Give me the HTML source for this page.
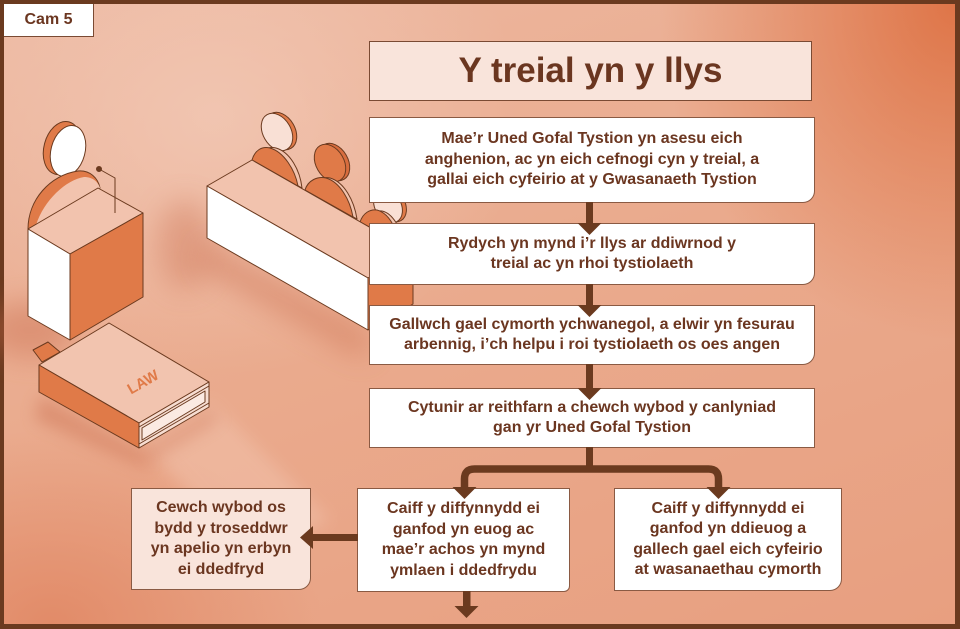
<!DOCTYPE html>
<html><head><meta charset="utf-8">
<style>
*{margin:0;padding:0;box-sizing:border-box}
html,body{width:960px;height:629px;overflow:hidden}
#wrap{position:relative;width:960px;height:629px;background:#6b3a1f}
#inner{position:absolute;left:4px;top:4px;width:951px;height:620px;overflow:hidden;
background:
 radial-gradient(ellipse 430px 360px at 22% 18%, rgba(243,204,186,0.7), rgba(243,204,186,0) 72%),
 radial-gradient(ellipse 380px 430px at 100% 0%, rgba(222,114,68,0.95), rgba(222,114,68,0) 78%),
 radial-gradient(ellipse 360px 260px at 5% 100%, rgba(224,132,96,0.8), rgba(224,132,96,0) 75%),
 linear-gradient(160deg,#edb9a2 0%,#eaab8e 45%,#e89f80 100%);}
svg{position:absolute;left:0;top:0}
.box{position:absolute;background:#fff;border:1px solid #8a5a43;display:flex;align-items:center;justify-content:center;text-align:center;
font-family:"Liberation Sans",sans-serif;font-weight:bold;font-size:16px;line-height:20.5px;color:#6b3620;white-space:nowrap}
.pk{background:#f9e4db}
#tab{position:absolute;left:4px;top:4px;width:90px;height:33px;background:#fff;border-right:1px solid #7a4a33;border-bottom:1px solid #7a4a33;
font-family:"Liberation Sans",sans-serif;font-weight:bold;font-size:16px;color:#6b3620;display:flex;align-items:center;justify-content:center}
</style></head><body>
<div id="wrap">
<div id="inner"></div>
<svg width="960" height="629" viewBox="0 0 960 629">
 <defs>
  <filter id="bl" x="-50%" y="-50%" width="200%" height="200%"><feGaussianBlur stdDeviation="14"/></filter>
  <filter id="bl2" x="-50%" y="-50%" width="200%" height="200%"><feGaussianBlur stdDeviation="8"/></filter>
 </defs>
 <polygon points="140,440 210,400 330,520 250,560" fill="#f3c6b1" opacity="0.45" filter="url(#bl2)"/>
 <ellipse cx="185" cy="245" rx="28" ry="45" fill="#c8694a" opacity="0.35" filter="url(#bl)"/>
 <polygon points="205,240 368,332 368,360 200,268" fill="#c8694a" opacity="0.45" filter="url(#bl)"/>
 <ellipse cx="30" cy="330" rx="45" ry="28" fill="#c8694a" opacity="0.4" filter="url(#bl)"/>
 <polygon points="40,395 140,450 150,470 35,420" fill="#c8694a" opacity="0.4" filter="url(#bl2)"/>
 <polygon points="140,450 210,408 220,420 150,462" fill="#c8694a" opacity="0.3" filter="url(#bl2)"/>

 <g stroke="#6b3a1f" stroke-width="1" stroke-linejoin="round">
  <ellipse cx="62" cy="148" rx="18" ry="27" transform="rotate(15 62 148)" fill="#e07a48"/>
  <ellipse cx="68" cy="151" rx="17" ry="26" transform="rotate(15 68 151)" fill="#ffffff"/>
  <path d="M28,229 C28,200 50,175 78,171 C90,170 98,178 100,188 Z" fill="#e07a48"/>
  <path d="M36,225 C44,200 66,180 84,177 C93,177 98,182 100,188 Z" fill="#f2c3ae" stroke="none"/>
  <polygon points="28,229 98,188 143,213 70,254" fill="#f2c3ae"/>
  <polygon points="28,229 70,254 70,340 28,316" fill="#ffffff"/>
  <polygon points="70,254 143,213 143,297 70,340" fill="#e07a48"/>
  <polyline points="99,169 115,178 115,213" fill="none"/>
  <circle cx="99" cy="169" r="2.5" fill="#6b3a1f"/>

  <ellipse cx="281" cy="131" rx="14" ry="20" transform="rotate(-30 281 131)" fill="#e07a48"/>
  <ellipse cx="277" cy="132" rx="14" ry="20" transform="rotate(-30 277 132)" fill="#f9e0d5"/>
  <ellipse cx="334" cy="162" rx="14" ry="20" transform="rotate(-30 334 162)" fill="#d86d3e"/>
  <ellipse cx="330" cy="163" rx="14" ry="20" transform="rotate(-30 330 163)" fill="#e07a48"/>
  <ellipse cx="392" cy="205" rx="13" ry="18" transform="rotate(-30 392 205)" fill="#e07a48"/>
  <ellipse cx="388" cy="206" rx="13" ry="18" transform="rotate(-30 388 206)" fill="#f9e0d5"/>
  <path d="M256,162 C260,150 268,146 276,148 C290,152 300,170 302,188 Z" fill="#f2c3ae"/>
  <path d="M252,160 C255,150 262,146 270,148 C284,152 295,170 298,186 Z" fill="#e07a48"/>
  <path d="M309,192 C313,182 322,176 330,178 C344,182 354,200 357,219 Z" fill="#f2c3ae"/>
  <path d="M305,190 C308,180 318,176 326,178 C340,182 350,200 353,217 Z" fill="#e07a48"/>
  <path d="M364,224 C368,214 376,210 382,211 C392,213 402,228 404,246 Z" fill="#f2c3ae"/>
  <path d="M360,222 C363,213 370,209 377,210 C388,213 396,226 399,243 Z" fill="#e07a48"/>
  <polygon points="207,186 252,160 413,252 368,278" fill="#f2c3ae"/>
  <polygon points="207,186 368,278 368,330 207,238" fill="#ffffff"/>
  <polygon points="368,278 413,252 413,304 368,330" fill="#e07a48"/>

  <polygon points="33,350 48,342 60,352 42,362" fill="#e07a48"/>
  <polygon points="39,365 109,323 209,382 139,423" fill="#f2c4af"/>
  <polygon points="39,365 139,423 139,448 39,392" fill="#e07a48"/>
  <polygon points="139,423 209,382 209,407 139,448" fill="#f7ddd1"/>
  <polygon points="142,428 205,391 205,402 142,440" fill="#fbeae2"/>
  <line x1="139" y1="427" x2="209" y2="386"/>
  <line x1="139" y1="444" x2="209" y2="403"/>
 </g>
 <text x="143" y="387" transform="rotate(-30 143 382)" text-anchor="middle" font-family="Liberation Sans,sans-serif" font-weight="bold" font-size="15" fill="#e07a48">LAW</text>
</svg>

<div id="tab">Cam 5</div>

<div class="box pk" style="left:369px;top:41px;width:443px;height:60px;border-color:#7a4a33;font-size:35px;line-height:40px;">Y treial yn y llys</div>

<div class="box" style="left:369px;top:117px;width:446px;height:86px;border-radius:0 0 12px 0">Mae’r Uned Gofal Tystion yn asesu eich<br>anghenion, ac yn eich cefnogi cyn y treial, a<br>gallai eich cyfeirio at y Gwasanaeth Tystion</div>

<div class="box" style="left:369px;top:223px;width:446px;height:62px;border-radius:0 0 12px 0">Rydych yn mynd i’r llys ar ddiwrnod y<br>treial ac yn rhoi tystiolaeth</div>

<div class="box" style="left:369px;top:305px;width:446px;height:60px;border-radius:0 0 12px 0">Gallwch gael cymorth ychwanegol, a elwir yn fesurau<br>arbennig, i’ch helpu i roi tystiolaeth os oes angen</div>

<div class="box" style="left:369px;top:388px;width:446px;height:60px;">Cytunir ar reithfarn a chewch wybod y canlyniad<br>gan yr Uned Gofal Tystion</div>

<div class="box pk" style="left:131px;top:488px;width:180px;height:102px;border-radius:0 0 12px 0">Cewch wybod os<br>bydd y troseddwr<br>yn apelio yn erbyn<br>ei ddedfryd</div>

<div class="box" style="left:357px;top:488px;width:213px;height:104px;border-radius:0 0 6px 0">Caiff y diffynnydd ei<br>ganfod yn euog ac<br>mae’r achos yn mynd<br>ymlaen i ddedfrydu</div>

<div class="box" style="left:614px;top:488px;width:228px;height:103px;border-radius:0 0 12px 0">Caiff y diffynnydd ei<br>ganfod yn ddieuog a<br>gallech gael eich cyfeirio<br>at wasanaethau cymorth</div>

<svg width="960" height="629" viewBox="0 0 960 629">
 <g fill="#6b3a1f" stroke="none">
  <rect x="586" y="202" width="7" height="22"/>
  <polygon points="577.5,223 601.5,223 589.5,235"/>
  <rect x="586" y="284" width="7" height="22"/>
  <polygon points="577.5,305 601.5,305 589.5,317"/>
  <rect x="586" y="364" width="7" height="25"/>
  <polygon points="577.5,388 601.5,388 589.5,400"/>
  <rect x="586" y="447" width="7" height="22"/>
  <polygon points="452.5,487 476.5,487 464.5,499"/>
  <polygon points="706.5,487 730.5,487 718.5,499"/>
  <rect x="313" y="534" width="45" height="7"/>
  <polygon points="313,526 313,549 300,537.5"/>
  <rect x="463" y="591" width="7.5" height="17"/>
  <polygon points="454.5,606 478.5,606 466.5,618"/>
 </g>
 <path d="M464.5,489 V479 Q464.5,469 474.5,469 H708.5 Q718.5,469 718.5,479 V489" fill="none" stroke="#6b3a1f" stroke-width="7.5"/>
</svg>
</div>
</body></html>
